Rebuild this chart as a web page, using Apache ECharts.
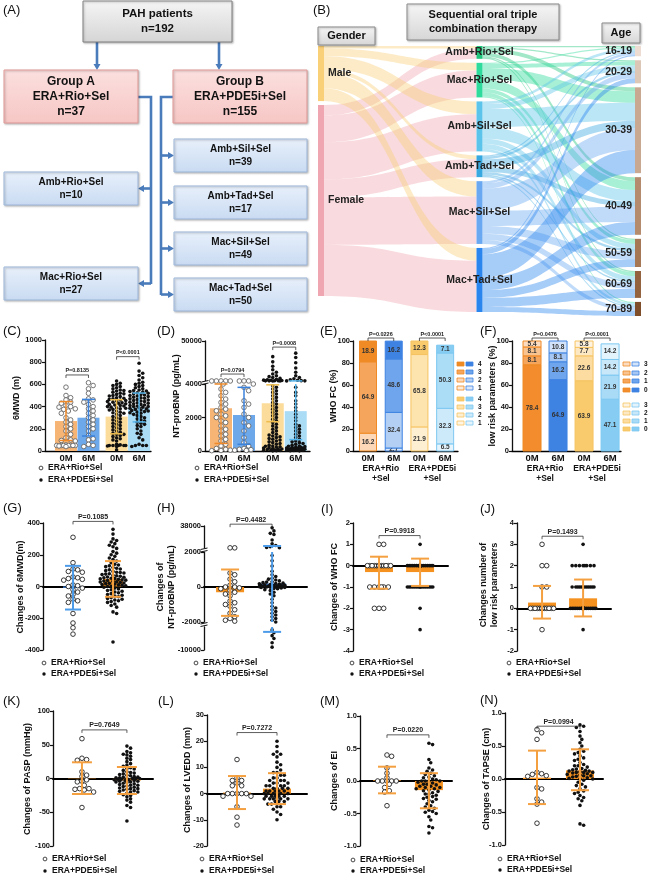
<!DOCTYPE html>
<html><head><meta charset="utf-8">
<script src="https://cdn.jsdelivr.net/npm/echarts@6/dist/echarts.min.js"></script>
<style>html,body{margin:0;padding:0;background:#fff}#c{width:649px;height:879px}</style>
</head><body><div id="c"></div>
<script>
// ================= DATA =================
const flowTotal = 192;
const groupTitles = ['Group A', 'Group B'];
const groupRegimens = ['ERA+Rio+Sel', 'ERA+PDE5i+Sel'];
const groupCounts = [37, 155];
const groupASubs = ['Amb+Rio+Sel', 'Mac+Rio+Sel'];
const groupASubCounts = [10, 27];
const groupBSubs = ['Amb+Sil+Sel', 'Amb+Tad+Sel', 'Mac+Sil+Sel', 'Mac+Tad+Sel'];
const groupBSubCounts = [39, 17, 49, 50];

const genders = ['Male', 'Female'];
const therapies = ['Amb+Rio+Sel', 'Mac+Rio+Sel', 'Amb+Sil+Sel', 'Amb+Tad+Sel', 'Mac+Sil+Sel', 'Mac+Tad+Sel'];
const ageGroups = ['16-19', '20-29', '30-39', '40-49', '50-59', '60-69', '70-89'];
const maleByTherapy = [2, 6, 10, 3, 12, 10];
const femaleByTherapy = [8, 21, 29, 14, 37, 40];
const therapyByAge = [
  [1, 1, 3, 3, 1, 1, 0],
  [1, 3, 9, 7, 3, 3, 1],
  [2, 4, 14, 9, 4, 4, 2],
  [1, 2, 6, 4, 2, 1, 1],
  [2, 4, 17, 12, 6, 5, 3],
  [1, 4, 18, 10, 6, 7, 4]
];

const seriesNames = ['ERA+Rio+Sel', 'ERA+PDE5i+Sel'];
const timeLabels = ['0M', '6M', '0M', '6M'];
const groupLabels = ['ERA+Rio\n+Sel', 'ERA+PDE5i\n+Sel'];

// (C) 6MWD (m)
const mwdA0 = [575, 500, 480, 460, 440, 430, 410, 400, 395, 380, 375, 360, 340, 300, 280, 260, 240, 220, 200, 180, 150, 120, 100, 95, 90, 55, 50, 50, 50, 50, 50, 50, 50, 45, 40];
const mwdA6 = [615, 590, 560, 520, 470, 460, 440, 420, 400, 380, 360, 340, 320, 300, 280, 260, 240, 220, 200, 180, 140, 110, 100, 60, 50, 40];
const mwdB0 = [630, 610, 600, 590, 580, 570, 560, 550, 545, 540, 530, 520, 515, 510, 500, 495, 490, 480, 475, 470, 465, 460, 455, 450, 445, 440, 435, 430, 425, 420, 415, 410, 405, 400, 395, 390, 385, 380, 375, 370, 360, 350, 345, 340, 330, 320, 310, 300, 290, 280, 270, 260, 250, 240, 230, 220, 210, 200, 190, 180, 170, 160, 150, 150, 140, 130, 120, 110, 100, 90, 60, 55, 50, 50, 50, 50, 50, 45, 40, 10];
const mwdB6 = [790, 720, 700, 680, 660, 640, 620, 610, 600, 590, 580, 570, 560, 550, 545, 540, 535, 530, 525, 520, 515, 510, 505, 500, 495, 490, 485, 480, 475, 470, 465, 460, 455, 450, 445, 440, 435, 430, 425, 420, 415, 410, 405, 400, 400, 395, 390, 385, 380, 375, 370, 365, 360, 355, 350, 345, 340, 330, 320, 310, 300, 290, 280, 270, 260, 250, 240, 230, 220, 200, 180, 160, 150, 120, 100, 60, 50, 50, 50, 40];
const mwdMean = [270, 300, 310, 392];
const mwdLo = [95, 135, 155, 262];
const mwdHi = [445, 465, 462, 522];
const pC = ['P=0.8135', 'P<0.0001'];
const bracketC = [685, 850];

// (D) NT-proBNP (pg/mL)
const bnpA0 = [4100, 4080, 4060, 4040, 4020, 4000, 3700, 3500, 3300, 3100, 2900, 2800, 2600, 2500, 2400, 2200, 2100, 2000, 1800, 1700, 1500, 1300, 1200, 1000, 900, 700, 600, 400, 300, 150, 100, 50, 30, 20];
const bnpA6 = [4080, 4050, 4020, 4000, 3800, 3600, 3000, 2800, 2600, 2200, 2000, 1700, 1500, 1200, 800, 500, 300, 150, 100, 80, 50, 30];
const bnpB0 = [32000, 26000, 21000, 17000, 14000, 12000, 10000, 9000, 8000, 7000, 6000, 5500, 5000, 4800, 4600, 4400, 4300, 4200, 4150, 4100, 4050, 3900, 3800, 3700, 3600, 3500, 3400, 3300, 3200, 3100, 3000, 2900, 2800, 2700, 2600, 2500, 2400, 2300, 2200, 2100, 2000, 1900, 1800, 1700, 1600, 1500, 1400, 1300, 1200, 1100, 1000, 950, 900, 850, 800, 750, 700, 650, 600, 550, 500, 450, 400, 350, 300, 280, 250, 220, 200, 180, 150, 120, 100, 80, 60, 50, 40, 30, 20, 10];
const bnpB6 = [36000, 31000, 25000, 19000, 14000, 10000, 8000, 6500, 5500, 4800, 4400, 4200, 4100, 3800, 3500, 3300, 3000, 2800, 2600, 2400, 2200, 2000, 1800, 1600, 1500, 1400, 1300, 1200, 1100, 1000, 900, 800, 700, 600, 550, 500, 450, 400, 350, 300, 280, 260, 240, 220, 200, 180, 160, 150, 140, 130, 120, 110, 100, 90, 80, 70, 60, 50, 40, 30, 20, 10];
const bnpMean = [2550, 2150, 2850, 2380];
const bnpLo = [450, 400, 1750, 680];
const bnpHi = [4000, 3800, 3950, 4100];
const pD = ['P=0.0794', 'P=0.0008'];
const bracketD = [12000, 43000];

// (E) WHO FC (%) stacked, classes 1..4 bottom->top
const whoA0 = [0, 16.2, 64.9, 18.9];
const whoA6 = [2.7, 32.4, 48.6, 16.2];
const whoB0 = [0, 21.9, 65.8, 12.3];
const whoB6 = [6.5, 32.3, 50.3, 7.1];
const whoLegend = ['4', '3', '2', '1'];
const pE = ['P=0.0226', 'P<0.0001'];

// (F) low risk parameters (%), 0..3 bottom->top
const riskA0 = [78.4, 8.1, 8.1, 5.4];
const riskA6 = [64.9, 16.2, 8.1, 10.8];
const riskB0 = [63.9, 22.6, 7.7, 5.8];
const riskB6 = [47.1, 21.9, 14.2, 14.2];
const riskLegend = ['3', '2', '1', '0'];
const pF = ['P=0.0476', 'P<0.0001'];
const bracketEF = 102.7;

// (G) change of 6MWD
const dMwdA = [310, 150, 110, 105, 95, 90, 60, 55, 50, 45, 40, 10, 5, 0, -10, -20, -35, -50, -60, -80, -90, -100, -170, -230, -260, -300];
const dMwdB = [360, 330, 300, 290, 280, 270, 260, 250, 240, 220, 210, 200, 190, 180, 170, 160, 150, 140, 135, 130, 125, 120, 115, 110, 105, 100, 95, 90, 88, 85, 80, 78, 75, 70, 68, 65, 60, 58, 55, 52, 50, 48, 45, 42, 40, 38, 35, 32, 30, 28, 25, 22, 20, 18, 15, 12, 10, 8, 5, 2, 0, -5, -10, -15, -20, -25, -30, -35, -40, -45, -50, -55, -60, -65, -70, -75, -80, -85, -90, -95, -100, -110, -120, -130, -160, -170, -350];
const dMwdMean = [-8, 48];
const dMwdLo = [-145, -65];
const dMwdHi = [130, 160];
const pG = 'P=0.1085';
const bracketG = 410;

// (H) change of NT-proBNP
const dBnpA = [2300, 2250, 800, 700, 450, 300, 100, 0, 0, -50, -100, -200, -300, -400, -500, -800, -900, -1000, -1100, -1300, -1500, -1700, -1800, -1900, -1950];
const dBnpB = [35000, 30000, 26000, 24000, 15000, 9000, 6000, 4000, 3000, 2600, 1800, 1500, 1200, 900, 700, 600, 500, 450, 400, 350, 300, 280, 250, 220, 200, 180, 160, 140, 120, 100, 90, 80, 70, 60, 50, 40, 30, 20, 10, 0, 0, 0, -10, -20, -30, -50, -80, -100, -150, -200, -300, -400, -500, -700, -900, -1100, -1200, -1300, -1400, -1500, -1600, -1700, -1800, -1900, -2000, -3000, -4000, -5000, -6000, -7500, -9000];
const dBnpMean = [-300, 200];
const dBnpLo = [-1650, -3700];
const dBnpHi = [1000, 5300];
const pH = 'P=0.4482';
const bracketH = 41000;

// (I) change of WHO FC
const dWhoA = [1, 1, 0, 0, 0, 0, 0, 0, 0, 0, 0, 0, 0, 0, 0, 0, 0, 0, 0, 0, 0, 0, 0, 0, -1, -1, -1, -1, -1, -1, -2, -2, -2];
const dWhoB = [1, 0, 0, 0, 0, 0, 0, 0, 0, 0, 0, 0, 0, 0, 0, 0, 0, 0, 0, 0, 0, 0, 0, 0, 0, 0, 0, 0, 0, 0, 0, 0, 0, 0, 0, 0, 0, 0, 0, 0, 0, -1, -1, -1, -1, -1, -1, -1, -1, -1, -1, -1, -1, -1, -1, -1, -1, -2, -3];
const dWhoMean = [-0.3, -0.3];
const dWhoLo = [-1.08, -0.95];
const dWhoHi = [0.42, 0.33];
const pI = 'P=0.9918';
const bracketI = 1.41;

// (J) change number of low risk parameters
const dRiskA = [3, 2, 2, 1, 1, 0, 0, 0, 0, 0, 0, 0, 0, 0, 0, 0, 0, 0, 0, 0, 0, 0, 0, 0, 0, -1];
const dRiskB = [3, 2, 2, 2, 2, 2, 2, 2, 2, 1, 1, 1, 1, 1, 1, 1, 1, 1, 1, 1, 1, 0, 0, 0, 0, 0, 0, 0, 0, 0, 0, 0, 0, 0, 0, 0, 0, 0, 0, 0, 0, 0, 0, 0, 0, 0, 0, 0, 0, 0, 0, 0, 0, 0, 0, 0, 0, 0, 0, 0, 0, -1];
const dRiskMean = [0.27, 0.47];
const dRiskLo = [-0.48, -0.38];
const dRiskHi = [1.05, 1.35];
const pJ = 'P=0.1493';
const bracketJ = 3.38;

// (K) change of PASP
const dPaspA = [59, 30, 28, 27, 10, 5, 3, -2, -4, -5, -10, -15, -15, -16, -17, -20, -43];
const dPaspB = [48, 45, 40, 38, 36, 35, 33, 30, 28, 25, 22, 20, 18, 16, 15, 14, 12, 10, 9, 8, 7, 6, 5, 4, 3, 2, 2, 1, 1, 0, 0, 0, 0, -1, -1, -2, -2, -3, -3, -4, -4, -5, -5, -6, -7, -8, -9, -10, -10, -11, -12, -13, -14, -15, -15, -16, -17, -18, -19, -20, -20, -22, -24, -25, -27, -30, -32, -35, -40, -43, -63];
const dPaspMean = [0.5, -3];
const dPaspLo = [-23, -23];
const dPaspHi = [24, 17];
const pK = 'P=0.7649';
const bracketK = 72;

// (L) change of LVEDD
const dLvA = [13, 6, 5, 5, 4, 3, 3, 0, 0, 0, 0, 0, -1, -1, -5, -9, -12];
const dLvB = [20, 18, 16, 15, 15, 14, 12, 11, 10, 9, 8, 8, 7, 7, 6, 6, 5, 5, 5, 4, 4, 4, 3, 3, 3, 3, 2, 2, 2, 2, 1, 1, 1, 1, 1, 0, 0, 0, 0, 0, 0, -1, -1, -1, -1, -1, -2, -2, -2, -2, -2, -2, -3, -3, -3, -4, -4, -5, -5, -6, -7, -8, -10];
const dLvMean = [0.4, 1.9];
const dLvLo = [-5.9, -4];
const dLvHi = [6.7, 7.8];
const pL = 'P=0.7272';
const bracketL = 23.3;

// (M) change of EI
const dEiA = [0.4, 0.38, 0.2, 0.12, 0.05, 0, 0, 0, 0, 0, -0.05, -0.1, -0.15, -0.17, -0.38];
const dEiB = [0.58, 0.56, 0.33, 0.28, 0.2, 0.17, 0.15, 0.12, 0.1, 0.08, 0.06, 0.05, 0.03, 0.02, 0, 0, 0, 0, -0.02, -0.03, -0.05, -0.05, -0.06, -0.08, -0.08, -0.1, -0.1, -0.12, -0.12, -0.14, -0.15, -0.16, -0.18, -0.2, -0.2, -0.22, -0.24, -0.25, -0.27, -0.28, -0.3, -0.32, -0.35, -0.38, -0.4, -0.42, -0.45, -0.47, -0.48, -0.5, -0.55, -0.6, -0.7, -0.72, -0.8];
const dEiMean = [0.01, -0.14];
const dEiLo = [-0.19, -0.42];
const dEiHi = [0.22, 0.12];
const pM = 'P=0.0220';
const bracketM = 0.71;

// (N) change of TAPSE
const dTapA = [0.75, 0.7, 0.6, 0.1, 0.08, 0.07, 0.05, 0.04, -0.13, -0.15, -0.3, -0.35, -0.38, -0.67];
const dTapB = [0.82, 0.8, 0.78, 0.72, 0.65, 0.6, 0.55, 0.5, 0.45, 0.42, 0.4, 0.38, 0.35, 0.32, 0.3, 0.28, 0.25, 0.22, 0.2, 0.2, 0.18, 0.16, 0.15, 0.14, 0.13, 0.12, 0.12, 0.11, 0.1, 0.1, 0.1, 0.09, 0.08, 0.07, 0.06, 0.05, 0.05, 0.04, 0.03, 0.02, 0.01, 0, 0, -0.02, -0.05, -0.08, -0.1, -0.12, -0.15, -0.18, -0.2, -0.22, -0.25, -0.28, -0.3, -0.33, -0.4, -0.68, -0.7];
const dTapMean = [0.02, 0.13];
const dTapLo = [-0.38, -0.17];
const dTapHi = [0.43, 0.45];
const pN = 'P=0.0994';
const bracketN = 0.8;

// ================= RENDER =================
const FONT = '"Liberation Sans", Arial, Helvetica, sans-serif';
const chart = echarts.init(document.getElementById('c'), null, { renderer: 'canvas' });
const option = { animation: false, backgroundColor: '#fff', textStyle: { fontFamily: FONT }, grid: [], xAxis: [], yAxis: [], series: [], graphic: [] };
const G = option.graphic;
const OPEN_SIZE = 4.6, FILLED_SIZE = 3.6;
const ORANGE = '#f5911f', ORANGE_ERR = '#f4a040', BLUE = '#3b87e4', BLUE_ERR = '#4c9be9';

function txt(x, y, text, font, o) {
  o = o || {};
  G.push({ type: 'text', x: x, y: y, rotation: o.rot || 0, silent: true, z: o.z || 20,
    style: { text: text, x: 0, y: 0, fill: o.fill || '#111', font: font, textAlign: o.align || 'left', align: o.align || 'left',
      textVerticalAlign: 'middle', verticalAlign: 'middle', lineHeight: o.lh } });
}
function grad(c1, c2) { return new echarts.graphic.LinearGradient(0, 0, 0, 1, [{ offset: 0, color: c1 }, { offset: 1, color: c2 }]); }
function box(x, y, w, h, c1, c2, stroke, text, font, lh) {
  G.push({ type: 'rect', shape: { x: x, y: y, width: w, height: h }, silent: true, z: 10,
    style: { fill: grad(c1, c2), stroke: stroke, lineWidth: 1, shadowBlur: 2, shadowOffsetX: 1, shadowOffsetY: 1, shadowColor: 'rgba(0,0,0,0.25)' } });
  txt(x + w / 2, y + h / 2, text, font, { align: 'center', lh: lh });
}
const AC = '#4a7cbc';
function pline(points) { G.push({ type: 'polyline', shape: { points: points }, silent: true, z: 9, style: { stroke: AC, lineWidth: 2.6, fill: null } }); }
function head(x, y, dir) {
  let pts;
  if (dir === 'down') pts = [[x - 3.5, y - 6], [x + 3.5, y - 6], [x, y]];
  if (dir === 'left') pts = [[x + 6, y - 3.5], [x + 6, y + 3.5], [x, y]];
  if (dir === 'right') pts = [[x - 6, y - 3.5], [x - 6, y + 3.5], [x, y]];
  G.push({ type: 'polygon', shape: { points: pts }, silent: true, z: 9, style: { fill: AC } });
}

// ---- Panel A: flowchart ----
txt(3, 10, '(A)', '13px ' + FONT);
box(83, 1, 149, 41, '#f5f5f5', '#d5d5d5', '#808080', 'PAH patients\nn=' + flowTotal, 'bold 11.5px ' + FONT, 15);
pline([[97, 42], [97, 64]]); head(97, 70, 'down');
pline([[219, 42], [219, 64]]); head(219, 70, 'down');
[4, 173].forEach((x, i) => box(x, 70, 134, 53, '#fbe0df', '#f6c6c4', '#e29a98', groupTitles[i] + '\n' + groupRegimens[i] + '\nn=' + groupCounts[i], 'bold 12px ' + FONT, 15));
const subAY = [172, 267], subBY = [139, 186, 232, 278];
pline([[138, 97], [151, 97], [151, 284]]);
groupASubs.forEach((s, i) => {
  box(4, subAY[i], 134, 33, '#e8f0fb', '#c9dbf2', '#9fb9dc', s + '\nn=' + groupASubCounts[i], 'bold 10px ' + FONT, 13);
  const cy = subAY[i] + 16.5; pline([[151, cy], [143, cy]]); head(138, cy, 'left');
});
pline([[173, 97], [161, 97], [161, 295]]);
groupBSubs.forEach((s, i) => {
  box(174, subBY[i], 133, 33, '#e8f0fb', '#c9dbf2', '#9fb9dc', s + '\nn=' + groupBSubCounts[i], 'bold 10px ' + FONT, 13);
  const cy = subBY[i] + 16.5; pline([[161, cy], [169, cy]]); head(174, cy, 'right');
});

// ---- Panel B: sankey ----
txt(313, 10, '(B)', '13px ' + FONT);
box(318, 27, 57, 18, '#f6f6f6', '#d6d6d6', '#8a8a8a', 'Gender', 'bold 11px ' + FONT, 13);
box(407, 4, 152, 36, '#f6f6f6', '#d6d6d6', '#8a8a8a', 'Sequential oral triple\ncombination therapy', 'bold 11px ' + FONT, 14);
box(602, 23, 38, 20, '#f6f6f6', '#d6d6d6', '#8a8a8a', 'Age', 'bold 11px ' + FONT, 13);
const genderColors = ['#f9cf78', '#f0a6b0'];
const therapyColors = ['#1fc67c', '#2fdb9c', '#5cc4ea', '#38a8e0', '#6aa9f1', '#2a86ee'];
const ageColors = ['#ecdcd2', '#dcc6b6', '#c8a891', '#b58b6d', '#a57755', '#93633f', '#7e4e2a'];
const sData = [];
genders.forEach((g, i) => sData.push({ name: g, itemStyle: { color: genderColors[i] }, label: { position: 'right', distance: 4 } }));
therapies.forEach((t, i) => sData.push({ name: t, itemStyle: { color: therapyColors[i] }, label: { position: 'inside' } }));
ageGroups.forEach((a, i) => sData.push({ name: a, itemStyle: { color: ageColors[i] }, label: { position: 'left', distance: 3 } }));
const sLinks = [];
therapies.forEach((t, i) => {
  sLinks.push({ source: 'Male', target: t, value: maleByTherapy[i] });
  sLinks.push({ source: 'Female', target: t, value: femaleByTherapy[i] });
});
therapies.forEach((t, i) => ageGroups.forEach((a, j) => { if (therapyByAge[i][j] > 0) sLinks.push({ source: t, target: a, value: therapyByAge[i][j] }); }));
option.series.push({ type: 'sankey', left: 318, top: 46, right: 8, bottom: 563, nodeWidth: 6, nodeGap: 4, layoutIterations: 0,
  draggable: false, silent: true, emphasis: { disabled: true }, data: sData, links: sLinks, z: 1,
  label: { fontSize: 10.5, fontWeight: 'bold', color: '#222', fontFamily: FONT },
  lineStyle: { color: 'source', opacity: 0.42, curveness: 0.5 } });

// ---- generic helpers for dot / stacked panels ----
function addGrid(l, t, w, h) { option.grid.push({ left: l, top: t, width: w, height: h, containLabel: false, outerBoundsMode: 'none', show: false }); return option.grid.length - 1; }
function yAxisCfg(gi, s) {
  return { gridIndex: gi, type: 'value', min: s.min, max: s.max, interval: s.interval,
    axisLine: { show: true, onZero: false, lineStyle: { color: '#111', width: 1.3 } },
    axisTick: { show: true, length: 3, lineStyle: { color: '#111', width: 1.2 } },
    axisLabel: { show: true, margin: 3, fontSize: 7.5, fontWeight: 'bold', color: '#111', fontFamily: FONT,
      showMinLabel: !s.hideMin, showMaxLabel: !s.hideMax, formatter: s.fmt || (v => String(v)) },
    splitLine: { show: false } };
}
function xAxisCfg(gi, P, showLine) {
  return { gridIndex: gi, type: 'value', min: P.xMin, max: P.xMax,
    axisLine: { show: showLine, onZero: !!P.onZero, lineStyle: { color: '#000', width: P.onZero ? 2 : 1.3 } },
    axisTick: { show: false }, axisLabel: { show: false }, splitLine: { show: false } };
}
function swarm(ys, d, maxHalf) {
  const n = ys.length, order = ys.map((_, i) => i).sort((a, b) => ys[a] - ys[b]);
  const placed = [], offs = new Array(n);
  const step = d * 0.55, cands = [0];
  for (let k = 1; k * step <= maxHalf + 0.01; k++) cands.push(k * step, -k * step);
  order.forEach(i => {
    const y = ys[i];
    let chosen = null, bestScore = -1, bestC = 0;
    for (const c of cands) {
      let minD = Infinity;
      for (const p of placed) { if (Math.abs(p.y - y) >= d) continue; const dd = Math.hypot(p.x - c, p.y - y); if (dd < minD) minD = dd; }
      if (minD >= d) { chosen = c; break; }
      if (minD > bestScore) { bestScore = minD; bestC = c; }
    }
    if (chosen === null) chosen = bestC;
    placed.push({ x: chosen, y: y }); offs[i] = chosen;
  });
  return offs;
}
function shapeSeries(xi, yi, items, z) {
  return { type: 'custom', xAxisIndex: xi, yAxisIndex: yi, clip: false, silent: true, z: z,
    data: items.map(it => [it.x != null ? it.x : it.x1, it.y0 != null ? it.y0 : it.y]),
    renderItem: function (params, api) {
      const it = items[params.dataIndex];
      if (it.kind === 'bar' || it.kind === 'seg') {
        const a = api.coord([it.x, it.y0]), b = api.coord([it.x, it.y1]);
        const top = Math.min(a[1], b[1]), h = Math.abs(a[1] - b[1]);
        const ch = [{ type: 'rect', shape: { x: a[0] - it.w / 2, y: top, width: it.w, height: h },
          style: { fill: it.fill, stroke: it.stroke || null, lineWidth: it.stroke ? 1 : 0, opacity: it.opacity == null ? 1 : it.opacity } }];
        if (it.label) ch.push({ type: 'text', style: { x: a[0], y: top + h / 2, text: it.label, font: 'bold 6.5px ' + FONT, fill: '#333',
          textAlign: 'center', align: 'center', textVerticalAlign: 'middle', verticalAlign: 'middle' } });
        return { type: 'group', children: ch };
      }
      if (it.kind === 'err') {
        const a = api.coord([it.x, it.y0]), b = api.coord([it.x, it.y1]);
        const st = { stroke: it.color, lineWidth: it.lw };
        const ch = [{ type: 'line', shape: { x1: a[0], y1: a[1], x2: b[0], y2: b[1] }, style: st }];
        if (it.capLo) ch.push({ type: 'line', shape: { x1: a[0] - it.cap / 2, y1: a[1], x2: a[0] + it.cap / 2, y2: a[1] }, style: st });
        if (it.capHi) ch.push({ type: 'line', shape: { x1: b[0] - it.cap / 2, y1: b[1], x2: b[0] + it.cap / 2, y2: b[1] }, style: st });
        return { type: 'group', children: ch };
      }
      if (it.kind === 'bracket') {
        const a = api.coord([it.x1, it.y]), b = api.coord([it.x2, it.y]);
        return { type: 'group', children: [
          { type: 'polyline', shape: { points: [[a[0], a[1] + 3], [a[0], a[1]], [b[0], b[1]], [b[0], b[1] + 3]] }, style: { stroke: '#333', lineWidth: 0.8, fill: null } },
          { type: 'text', style: { x: (a[0] + b[0]) / 2, y: a[1] - 1, text: it.text, font: it.font, fill: '#222',
            textAlign: 'center', align: 'center', textVerticalAlign: 'bottom', verticalAlign: 'bottom' } }] };
      }
      if (it.kind === 'label') {
        const a = api.coord([it.x, it.y]);
        return { type: 'text', style: { x: a[0], y: a[1] + it.dy, text: it.text, font: it.font, fill: '#111', lineHeight: it.lh,
          textAlign: 'center', align: 'center', textVerticalAlign: 'top', verticalAlign: 'top' } };
      }
      return null;
    } };
}

function dotPanel(P) {
  const segs = P.segs.map((s, si) => {
    const gi = addGrid(P.left, s.top, P.width, s.height);
    const xi = option.xAxis.length; option.xAxis.push(xAxisCfg(gi, P, si === P.main));
    const yi = option.yAxis.length; option.yAxis.push(yAxisCfg(gi, s));
    return { s: s, xi: xi, yi: yi, under: [], over: [], open: [], filled: [] };
  });
  const order = [P.main].concat(P.segs.map((_, i) => i).filter(i => i !== P.main));
  function segOf(v) {
    for (const i of order) { const s = P.segs[i]; if (v >= s.min && v <= s.max) return i; }
    let best = P.main, bd = Infinity;
    P.segs.forEach((s, i) => { const d = v < s.min ? s.min - v : v - s.max; if (d < bd) { bd = d; best = i; } });
    return best;
  }
  function pxY(v, i) { const s = P.segs[i]; return s.top + (s.max - v) / (s.max - s.min) * s.height; }
  const pxPerX = P.width / (P.xMax - P.xMin);
  P.cols.forEach(c => {
    const si = c.pts.map(segOf);
    const ys = c.pts.map((v, k) => pxY(v, si[k]));
    const d = c.open ? OPEN_SIZE : FILLED_SIZE;
    const offs = swarm(ys, d * 0.92, c.spread);
    c.pts.forEach((v, k) => segs[si[k]][c.open ? 'open' : 'filled'].push([c.x + offs[k] / pxPerX, v]));
    if (c.barColor) {
      const lo = Math.min(0, c.mean), hi = Math.max(0, c.mean);
      segs.forEach(sg => { const a = Math.max(lo, sg.s.min), b = Math.min(hi, sg.s.max);
        if (b > a) sg.under.push({ kind: 'bar', x: c.x, y0: a, y1: b, w: c.barW, fill: c.barColor, opacity: c.barOpacity }); });
    }
    segs.forEach(sg => { const a = Math.max(c.lo, sg.s.min), b = Math.min(c.hi, sg.s.max);
      if (b > a) sg.over.push({ kind: 'err', x: c.x, y0: a, y1: b, capLo: a === c.lo, capHi: b === c.hi, color: c.errColor, lw: P.errW, cap: P.capW }); });
  });
  (P.brackets || []).forEach(br => segs[segOf(br.level)].over.push({ kind: 'bracket', x1: br.x1, x2: br.x2, y: br.level, text: br.text, font: P.bracketFont }));
  const m = segs[P.main];
  (P.xlabels || []).forEach(l => m.over.push({ kind: 'label', x: l.x, y: m.s.min, text: l.text, dy: P.xlabelDy, font: P.xlabelFont }));
  segs.forEach(sg => {
    if (sg.under.length) option.series.push(shapeSeries(sg.xi, sg.yi, sg.under, 2));
    if (sg.open.length) option.series.push({ type: 'scatter', xAxisIndex: sg.xi, yAxisIndex: sg.yi, data: sg.open, symbol: 'circle', symbolSize: OPEN_SIZE,
      itemStyle: { color: '#fff', borderColor: P.openColor || '#222', borderWidth: 0.9, opacity: 1 }, clip: false, silent: true, z: 3 });
    if (sg.filled.length) option.series.push({ type: 'scatter', xAxisIndex: sg.xi, yAxisIndex: sg.yi, data: sg.filled, symbol: 'circle', symbolSize: FILLED_SIZE,
      itemStyle: { color: '#111', opacity: 1 }, clip: false, silent: true, z: 3 });
    if (sg.over.length) option.series.push(shapeSeries(sg.xi, sg.yi, sg.over, 4));
  });
}

function stackPanel(P) {
  const gi = addGrid(P.left, P.top, P.width, P.height);
  const xi = option.xAxis.length; option.xAxis.push(xAxisCfg(gi, P, true));
  const yi = option.yAxis.length; option.yAxis.push(yAxisCfg(gi, { min: 0, max: 100, interval: 20 }));
  const items = [];
  P.bars.forEach(b => {
    let acc = 0;
    b.vals.forEach((v, k) => { if (v > 0) items.push({ kind: 'seg', x: b.x, y0: acc, y1: acc + v, w: P.barW, fill: b.fills[k], stroke: b.stroke, label: v.toFixed(1) }); acc += v; });
  });
  P.bars.forEach((b, i) => items.push({ kind: 'label', x: b.x, y: 0, text: timeLabels[i], dy: 2, font: 'bold 9.5px ' + FONT }));
  P.groups.forEach((g, i) => items.push({ kind: 'label', x: g.x, y: 0, text: groupLabels[i], dy: 13, lh: 10, font: 'bold 8.5px ' + FONT }));
  P.brackets.forEach(br => items.push({ kind: 'bracket', x1: br.x1, x2: br.x2, y: br.level, text: br.text, font: 'bold 5.5px ' + FONT }));
  option.series.push(shapeSeries(xi, yi, items, 2));
}
function legendSwatches(x1, x2, xl, rows, labels, colsA, colsB, strokeA, strokeB, idx) {
  rows.forEach((y, r) => {
    G.push({ type: 'rect', shape: { x: x1, y: y - 2, width: 7, height: 4 }, silent: true, style: { fill: colsA[idx[r]], stroke: strokeA, lineWidth: 0.8 } });
    G.push({ type: 'rect', shape: { x: x2, y: y - 2, width: 7, height: 4 }, silent: true, style: { fill: colsB[idx[r]], stroke: strokeB, lineWidth: 0.8 } });
    txt(xl, y, labels[r], 'bold 6.5px ' + FONT);
  });
}
function dotLegend(x, y1, y2) {
  G.push({ type: 'circle', shape: { cx: x, cy: y1, r: 1.9 }, silent: true, style: { fill: '#fff', stroke: '#333', lineWidth: 0.9 } });
  txt(x + 7, y1, seriesNames[0], 'bold 8.5px ' + FONT);
  G.push({ type: 'circle', shape: { cx: x, cy: y2, r: 1.7 }, silent: true, style: { fill: '#111' } });
  txt(x + 7, y2, seriesNames[1], 'bold 8.5px ' + FONT);
}
function breakMark(x, y) {
  G.push({ type: 'rect', shape: { x: x - 3, y: y - 1.5, width: 6, height: 3 }, silent: true, z: 30, style: { fill: '#fff' } });
  G.push({ type: 'line', shape: { x1: x - 3.5, y1: y - 0.5, x2: x + 3.5, y2: y - 2 }, silent: true, z: 31, style: { stroke: '#111', lineWidth: 1 } });
  G.push({ type: 'line', shape: { x1: x - 3.5, y1: y + 2, x2: x + 3.5, y2: y + 0.5 }, silent: true, z: 31, style: { stroke: '#111', lineWidth: 1 } });
}
const yTitle = (x, y, t) => txt(x, y, t, 'bold 9px ' + FONT, { rot: Math.PI / 2, align: 'center', lh: 11 });
const BF_SMALL = 'bold 5.5px ' + FONT, BF = 'bold 7px ' + FONT;
const cX = [1, 2, 3.25, 4.25];

// ---- (C) ----
txt(3, 331, '(C)', '13px ' + FONT);
yTitle(17, 398, '6MWD (m)');
const cColors = [['#f7b575', '#ee8a2a', true], ['#6da8ea', '#3b82dc', true], ['#fcdc9a', '#eebd4d', false], ['#abdcf6', '#56b6ec', false]];
dotPanel({ left: 45, width: 106, xMin: 0.067, xMax: 4.78, main: 0, errW: 1.5, capW: 13, openColor: '#666',
  segs: [{ top: 340, height: 111, min: 0, max: 1000, interval: 200 }],
  cols: [mwdA0, mwdA6, mwdB0, mwdB6].map((pts, i) => ({ x: cX[i], pts: pts, open: cColors[i][2], mean: mwdMean[i], lo: mwdLo[i], hi: mwdHi[i],
    barColor: cColors[i][0], errColor: cColors[i][1], barW: 22, spread: 10 })),
  brackets: [{ x1: 1, x2: 2, level: bracketC[0], text: pC[0] }, { x1: 3.25, x2: 4.25, level: bracketC[1], text: pC[1] }], bracketFont: BF_SMALL,
  xlabels: cX.map((x, i) => ({ x: x, text: timeLabels[i] })), xlabelFont: 'bold 9.5px ' + FONT, xlabelDy: 2 });
dotLegend(41, 468, 480);

// ---- (D) ----
txt(157, 331, '(D)', '13px ' + FONT);
yTitle(177, 396, 'NT-proBNP (pg/mL)');
dotPanel({ left: 205, width: 105, xMin: 0.304, xMax: 4.87, main: 1, errW: 1.5, capW: 13, openColor: '#666',
  segs: [{ top: 341, height: 40, min: 4000, max: 50000, interval: 46000, hideMin: true },
         { top: 384, height: 67, min: 0, max: 4000, interval: 2000 }],
  cols: [bnpA0, bnpA6, bnpB0, bnpB6].map((pts, i) => ({ x: cX[i], pts: pts, open: cColors[i][2], mean: bnpMean[i], lo: bnpLo[i], hi: bnpHi[i],
    barColor: cColors[i][0], errColor: cColors[i][1], barW: 22, spread: 10 })),
  brackets: [{ x1: 1, x2: 2, level: bracketD[0], text: pD[0] }, { x1: 3.25, x2: 4.25, level: bracketD[1], text: pD[1] }], bracketFont: BF_SMALL,
  xlabels: cX.map((x, i) => ({ x: x, text: timeLabels[i] })), xlabelFont: 'bold 9.5px ' + FONT, xlabelDy: 2 });
breakMark(205, 382.5);
dotLegend(197, 468, 480);

// ---- (E) & (F) ----
const fillA0 = ['#fdebd9', '#fcd8b8', '#f6a65c', '#ef8a24'], fillA6 = ['#dbe8fa', '#b3d0f4', '#6fa5ec', '#3f83e2'];
const fillB0 = ['#fff5e3', '#fdefd2', '#fde3ad', '#f9cb6c'], fillB6 = ['#e6f5fd', '#cdeafa', '#abddf7', '#87cdf3'];
const rfA0 = ['#f28c2c', '#f6a65c', '#f9c38f', '#fcdcc0'], rfA6 = ['#3f83e2', '#6fa5ec', '#a6c7f3', '#d2e3f9'];
const rfB0 = ['#f9cb6c', '#fcdca0', '#fde8c4', '#fef3e0'], rfB6 = ['#87cdf3', '#a9dbf7', '#c8e8fa', '#e3f4fd'];
const strokes = ['#ef8a24', '#3f83e2', '#f6c462', '#7dc8f1'];
txt(320, 331, '(E)', '13px ' + FONT);
yTitle(334, 396, 'WHO FC (%)');
stackPanel({ left: 353, top: 341, width: 105, height: 110, xMin: 0.416, xMax: 4.5, barW: 17,
  bars: [{ x: 1, vals: whoA0, fills: fillA0, stroke: strokes[0] }, { x: 2, vals: whoA6, fills: fillA6, stroke: strokes[1] },
         { x: 3, vals: whoB0, fills: fillB0, stroke: strokes[2] }, { x: 4, vals: whoB6, fills: fillB6, stroke: strokes[3] }],
  groups: [{ x: 1.5 }, { x: 3.5 }],
  brackets: [{ x1: 1, x2: 2, level: bracketEF, text: pE[0] }, { x1: 3, x2: 4, level: bracketEF, text: pE[1] }] });
legendSwatches(457, 466, 478, [364, 372, 380, 388], whoLegend, fillA0, fillA6, strokes[0], strokes[1], [3, 2, 1, 0]);
legendSwatches(457, 466, 478, [399, 407, 415, 423], whoLegend, fillB0, fillB6, strokes[2], strokes[3], [3, 2, 1, 0]);

txt(480, 331, '(F)', '13px ' + FONT);
yTitle(493, 396, 'low risk parameters (%)');
stackPanel({ left: 512, top: 341, width: 109, height: 110, xMin: 0.23, xMax: 4.42, barW: 18,
  bars: [{ x: 1, vals: riskA0, fills: rfA0, stroke: strokes[0] }, { x: 2, vals: riskA6, fills: rfA6, stroke: strokes[1] },
         { x: 3, vals: riskB0, fills: rfB0, stroke: strokes[2] }, { x: 4, vals: riskB6, fills: rfB6, stroke: strokes[3] }],
  groups: [{ x: 1.5 }, { x: 3.5 }],
  brackets: [{ x1: 1, x2: 2, level: bracketEF, text: pF[0] }, { x1: 3, x2: 4, level: bracketEF, text: pF[1] }] });
legendSwatches(623, 632, 644, [364, 373, 381, 390], riskLegend, rfA0, rfA6, strokes[0], strokes[1], [3, 2, 1, 0]);
legendSwatches(623, 632, 644, [405, 413, 421, 429], riskLegend, rfB0, rfB6, strokes[2], strokes[3], [3, 2, 1, 0]);

// ---- change panels ----
function changePanel(P, ptsA, ptsB, mean, lo, hi, barColors, errColors, pText, level, spread) {
  P.onZero = true; P.main = P.main || 0; P.errW = 2; P.capW = P.capW || 18; P.bracketFont = BF;
  P.cols = [
    { x: 1, pts: ptsA, open: true, mean: mean[0], lo: lo[0], hi: hi[0], barColor: barColors[0], errColor: errColors[0], barW: P.barW || 28, spread: spread },
    { x: 2, pts: ptsB, open: false, mean: mean[1], lo: lo[1], hi: hi[1], barColor: barColors[1], errColor: errColors[1], barW: P.barW || 28, spread: spread }];
  P.brackets = [{ x1: 1, x2: 2, level: level, text: pText }];
  dotPanel(P);
}
// (G)
txt(3, 508, '(G)', '13px ' + FONT);
yTitle(21, 587, 'Changes of 6MWD(m)');
changePanel({ left: 43, width: 99, xMin: 0.25, xMax: 2.725, barW: 20, capW: 16,
  segs: [{ top: 523, height: 127, min: -400, max: 400, interval: 200 }] },
  dMwdA, dMwdB, dMwdMean, dMwdLo, dMwdHi, [BLUE, ORANGE], [BLUE_ERR, ORANGE_ERR], pG, bracketG, 13);
dotLegend(44, 663, 674);
// (H)
txt(157, 508, '(H)', '13px ' + FONT);
yTitle(166, 587, 'Changes of\nNT-proBNP (pg/mL)');
changePanel({ left: 204, width: 103, xMin: 0.38, xMax: 2.83, main: 1,
  segs: [{ top: 526, height: 22, min: 2000, max: 38000, interval: 36000, hideMin: true },
         { top: 552, height: 70, min: -2000, max: 2000, interval: 2000 },
         { top: 627, height: 23, min: -10000, max: -2000, interval: 8000, hideMax: true }] },
  dBnpA, dBnpB, dBnpMean, dBnpLo, dBnpHi, [ORANGE, BLUE], [ORANGE_ERR, BLUE_ERR], pH, bracketH, 14);
breakMark(204, 550); breakMark(204, 624.5);
dotLegend(196, 663, 674);
// (I)
txt(321, 509, '(I)', '13px ' + FONT);
yTitle(335, 587, 'Changes of WHO FC');
changePanel({ left: 353, width: 95, xMin: 0.366, xMax: 2.68,
  segs: [{ top: 523, height: 128, min: -4, max: 2, interval: 1 }] },
  dWhoA, dWhoB, dWhoMean, dWhoLo, dWhoHi, [ORANGE, ORANGE], [ORANGE_ERR, ORANGE_ERR], pI, bracketI, 13);
dotLegend(352, 663, 674);
// (J)
txt(480, 509, '(J)', '13px ' + FONT);
yTitle(489, 585, 'Changes number of\nlow risk parameters');
changePanel({ left: 517, width: 94, xMin: 0.39, xMax: 2.68,
  segs: [{ top: 523, height: 128, min: -2, max: 4, interval: 1 }] },
  dRiskA, dRiskB, dRiskMean, dRiskLo, dRiskHi, [ORANGE, ORANGE], [ORANGE_ERR, ORANGE_ERR], pJ, bracketJ, 13);
dotLegend(509, 663, 674);
// (K)
txt(3, 701, '(K)', '13px ' + FONT);
yTitle(28, 779, 'Changes of PASP (mmHg)');
changePanel({ left: 53, width: 100, xMin: 0.356, xMax: 2.58, capW: 20,
  segs: [{ top: 711, height: 135, min: -100, max: 100, interval: 50 }] },
  dPaspA, dPaspB, dPaspMean, dPaspLo, dPaspHi, [ORANGE, ORANGE], [ORANGE_ERR, ORANGE_ERR], pK, bracketK, 14);
dotLegend(45, 859, 871);
// (L)
txt(158, 701, '(L)', '13px ' + FONT);
yTitle(188, 780, 'Changes of LVEDD (mm)');
changePanel({ left: 207, width: 100, xMin: 0.25, xMax: 2.75,
  segs: [{ top: 715, height: 131, min: -20, max: 30, interval: 10 }] },
  dLvA, dLvB, dLvMean, dLvLo, dLvHi, [ORANGE, ORANGE], [ORANGE_ERR, ORANGE_ERR], pL, bracketL, 14);
dotLegend(202, 859, 871);
// (M)
const f1 = v => v.toFixed(1);
txt(320, 701, '(M)', '13px ' + FONT);
yTitle(335, 781, 'Changes of EI');
changePanel({ left: 360, width: 92, xMin: 0.357, xMax: 2.55,
  segs: [{ top: 716, height: 130, min: -1, max: 1, interval: 0.5, fmt: f1 }] },
  dEiA, dEiB, dEiMean, dEiLo, dEiHi, [ORANGE, ORANGE], [ORANGE_ERR, ORANGE_ERR], pM, bracketM, 13);
dotLegend(353, 860, 871);
// (N)
txt(480, 700, '(N)', '13px ' + FONT);
yTitle(487, 779, 'Changes of TAPSE (cm)');
changePanel({ left: 505, width: 98, xMin: 0.256, xMax: 2.535,
  segs: [{ top: 713, height: 132, min: -1, max: 1, interval: 0.5, fmt: f1 }] },
  dTapA, dTapB, dTapMean, dTapLo, dTapHi, [ORANGE, ORANGE], [ORANGE_ERR, ORANGE_ERR], pN, bracketN, 14);
dotLegend(500, 859, 870);

chart.setOption(option);
</script></body></html>
